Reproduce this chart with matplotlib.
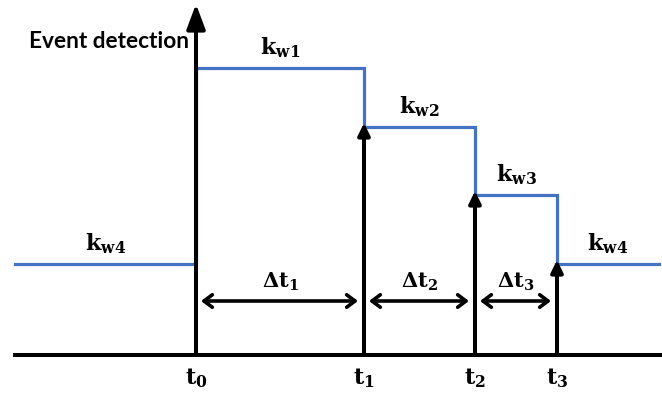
import matplotlib.pyplot as plt
import matplotlib as mpl

mpl.rcParams['mathtext.fontset'] = 'dejavuserif'

# ---- data (schematic units, baseline = 0) ----
event_times = [196, 364, 475, 557]            # t0, t1, t2, t3
time_labels = ['t_0', 't_1', 't_2', 't_3']
x_start, x_end = 15, 659                       # extent of the k_w step line
levels = [91, 287, 228, 160, 91]               # k_w4 (before t0), k_w1, k_w2, k_w3, k_w4
level_labels = ['k_{w4}', 'k_{w1}', 'k_{w2}', 'k_{w3}', 'k_{w4}']
interval_labels = ['\\Delta t_1', '\\Delta t_2', '\\Delta t_3']
axis_top = 351
axis_title = 'Event detection'

BLUE = '#4472C4'

fig = plt.figure(figsize=(6.62, 3.95), dpi=100)
ax = fig.add_axes([0, 0, 1, 1])
ax.set_xlim(0, 662)
ax.set_ylim(-40, 355)
ax.axis('off')

# step line
xs = [x_start] + event_times + [x_end]
ys = levels + [levels[-1]]
ax.step(xs, ys, where='post', color=BLUE, lw=2.3, zorder=2, solid_joinstyle='miter')

# baseline
ax.plot([13, 662], [0, 0], color='black', lw=2.9, zorder=3, solid_capstyle='butt')

# vertical axis arrow at t0
ax.annotate('', xy=(event_times[0], axis_top), xytext=(event_times[0], 0),
            arrowprops=dict(arrowstyle='-|>,head_length=0.75,head_width=0.28',
                            mutation_scale=20, lw=2.9, color='black',
                            shrinkA=0, shrinkB=0), zorder=4)

# event arrows t1..t3
for t, lv in zip(event_times[1:], levels[2:]):
    ax.annotate('', xy=(t, lv + 4), xytext=(t, 0),
                arrowprops=dict(arrowstyle='-|>,head_length=0.45,head_width=0.22',
                                mutation_scale=16, lw=2.9, color='black',
                                shrinkA=0, shrinkB=0), zorder=4)

# interval double arrows and labels
for i, lab in enumerate(interval_labels):
    a, b = event_times[i], event_times[i + 1]
    ax.annotate('', xy=(b - 6, 54), xytext=(a + 5, 54),
                arrowprops=dict(arrowstyle='<->,head_length=0.6,head_width=0.45',
                                mutation_scale=10, lw=2.6, color='black',
                                shrinkA=0, shrinkB=0), zorder=4)
    ax.text((a + b) / 2, 73, f'$\\mathbf{{{lab}}}$', ha='center', va='center',
            fontsize=15, color='black')

# level labels
mids = [(x_start + event_times[0]) / 2] + \
       [(event_times[i] + event_times[i + 1]) / 2 for i in range(3)] + \
       [(event_times[3] + x_end) / 2]
for m, lv, lab in zip(mids, levels, level_labels):
    ax.text(m, lv + 20, f'$\\mathbf{{{lab}}}$', ha='center', va='center',
            fontsize=16, color='black')

# time labels
for t, lab in zip(event_times, time_labels):
    ax.text(t, -23, f'$\\mathbf{{{lab}}}$', ha='center', va='center',
            fontsize=16, color='black')

# axis title
ax.text(189, 313, axis_title, ha='right', va='center', fontsize=16.3,
        fontweight='bold', family='Lato', color='black')

fig.savefig('out.png', dpi=100)
